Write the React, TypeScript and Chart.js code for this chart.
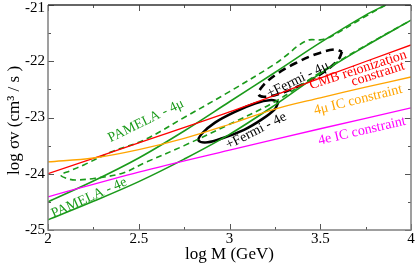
import React, { useEffect, useRef } from 'react';
import { Chart, registerables } from 'chart.js';
Chart.register(...registerables);

// ---- tick values / labels ----
const xTickValues = [2, 2.5, 3, 3.5, 4];
const xTickLabels = ['2', '2.5', '3', '3.5', '4'];
const yTickValues = [-25, -24, -23, -22, -21];
const yTickLabels = ['-25', '-24', '-23', '-22', '-21'];
const xTitle = 'log M (GeV)';
const yTitle = 'log \u03c3v (cm\u00b3 / s )';

// ---- constraint lines ----
const cmbX = [2, 2.5, 3, 3.5, 4];
const cmbY = [-24.0, -23.45, -22.9, -22.3, -21.71];

const ic4muX = [2, 2.25, 2.5, 2.75, 3, 3.25, 3.5, 3.75, 4];
const ic4muY = [-23.79, -23.72, -23.57, -23.37, -23.12, -22.85, -22.65, -22.46, -22.28];

const ic4eX = [2, 2.5, 3, 3.5, 4];
const ic4eY = [-24.41, -23.97, -23.58, -23.2, -22.83];

// ---- PAMELA 4e (solid band) ----
const pam4eLowX = [2, 2.25, 2.5, 2.75, 3, 3.25, 3.5, 3.75, 4];
const pam4eLowY = [-24.82, -24.49, -24.14, -23.74, -23.3, -22.78, -22.22, -21.73, -21.27];
const pam4eUpX = [2, 2.25, 2.5, 2.75, 3, 3.25, 3.5, 3.75, 3.86];
const pam4eUpY = [-24.5, -24.13, -23.72, -23.24, -22.72, -22.2, -21.67, -21.18, -21.0];

// ---- PAMELA 4mu (dashed contour) ----
const pam4muX = [3.86, 3.75, 3.56, 3.5, 3.44, 3.38, 3.32, 3.25, 3.0, 2.75, 2.53, 2.35, 2.2, 2.12, 2.07, 2.1, 2.15, 2.26, 2.41, 2.53, 2.75, 3.0, 3.25, 3.5, 3.75, 4.0];
const pam4muY = [-21.0, -21.2, -21.56, -21.62, -21.62, -21.72, -21.88, -22.05, -22.54, -23.0, -23.4, -23.61, -23.84, -23.95, -24.02, -24.08, -24.11, -24.08, -23.99, -23.81, -23.5, -23.12, -22.72, -22.2, -21.72, -21.27];

// ---- Fermi + PAMELA ellipses ----
const fermi4eX = [3.27, 3.25, 3.18, 3.08, 2.96, 2.88, 2.83, 2.85, 2.92, 3.03, 3.14, 3.23, 3.27];
const fermi4eY = [-22.72, -22.85, -23.03, -23.22, -23.37, -23.44, -23.41, -23.28, -23.09, -22.9, -22.75, -22.69, -22.72];
const fermi4muX = [3.62, 3.6, 3.53, 3.42, 3.3, 3.2, 3.16, 3.18, 3.25, 3.36, 3.48, 3.58, 3.62];
const fermi4muY = [-21.83, -21.97, -22.17, -22.38, -22.55, -22.63, -22.59, -22.45, -22.25, -22.04, -21.87, -21.79, -21.83];

const toPts = (xs: number[], ys: number[]) => xs.map((x, i) => ({ x, y: ys[i] }));

const SERIF = "'Liberation Serif', 'Times New Roman', serif";
const GREEN = '#1a9a1a';

// text annotations: [text, x, y, angle(deg), color]
const annotations: Array<[string, number, number, number, string]> = [
  ['PAMELA - 4\u03bc', 2.54, -23.06, 26, GREEN],
  ['PAMELA - 4e', 2.226, -24.43, 24, GREEN],
  ['+Fermi - 4e', 3.146, -23.24, 27, '#000'],
  ['+Fermi - 4\u03bc', 3.377, -22.33, 26, '#000'],
  ['CMB reionization', 3.708, -22.156, 18, '#ff0000'],
  ['constraint', 3.818, -22.227, 18, '#ff0000'],
  ['4\u03bc IC constraint', 3.708, -22.69, 14, '#ffa500'],
  ['4e IC constraint', 3.73, -23.24, 13, '#ff00ff'],
];

const framePlugin = {
  id: 'frameTicks',
  afterDatasetsDraw(chart: any) {
    const { ctx, chartArea: a, scales } = chart;
    const xs = scales.x, ys = scales.y;
    ctx.save();
    // annotations
    ctx.font = `14px ${SERIF}`;
    ctx.textAlign = 'center';
    ctx.textBaseline = 'middle';
    for (const [t, x, y, ang, col] of annotations) {
      ctx.save();
      ctx.translate(xs.getPixelForValue(x), ys.getPixelForValue(y));
      ctx.rotate((-ang * Math.PI) / 180);
      ctx.fillStyle = col;
      ctx.fillText(t, 0, 0);
      ctx.restore();
    }
    // ticks
    ctx.strokeStyle = '#555';
    ctx.lineWidth = 1;
    for (let v = 2; v <= 4.0001; v += 0.25) {
      const px = Math.round(xs.getPixelForValue(v)) + 0.5;
      const major = Math.abs(v * 2 - Math.round(v * 2)) < 1e-6;
      const L = major ? 6 : 3;
      ctx.beginPath();
      ctx.moveTo(px, a.bottom); ctx.lineTo(px, a.bottom - L);
      ctx.moveTo(px, a.top); ctx.lineTo(px, a.top + L);
      ctx.stroke();
    }
    for (let v = -25; v <= -20.999; v += 0.5) {
      const py = Math.round(ys.getPixelForValue(v)) + 0.5;
      const major = Math.abs(v - Math.round(v)) < 1e-6;
      const L = major ? 6 : 3;
      ctx.beginPath();
      ctx.moveTo(a.left, py); ctx.lineTo(a.left + L, py);
      ctx.moveTo(a.right, py); ctx.lineTo(a.right - L, py);
      ctx.stroke();
    }
    // frame
    ctx.lineWidth = 1.5;
    ctx.strokeStyle = '#808080';
    ctx.beginPath();
    ctx.moveTo(a.left, a.top); ctx.lineTo(a.left, a.bottom); ctx.lineTo(a.right, a.bottom); ctx.lineTo(a.right, a.top);
    ctx.stroke();
    ctx.strokeStyle = '#333';
    ctx.beginPath();
    ctx.moveTo(a.left, a.top); ctx.lineTo(a.right, a.top);
    ctx.stroke();

    // tick labels
    ctx.fillStyle = '#000';
    ctx.font = `15px ${SERIF}`;
    ctx.textAlign = 'center';
    ctx.textBaseline = 'alphabetic';
    xTickValues.forEach((v, i) => {
      ctx.fillText(xTickLabels[i], xs.getPixelForValue(v), a.bottom + 13);
    });
    ctx.textAlign = 'right';
    ctx.textBaseline = 'middle';
    yTickValues.forEach((v, i) => {
      const py = Math.max(ys.getPixelForValue(v), a.top + 3);
      ctx.fillText(yTickLabels[i], a.left - 3, py);
    });
    // axis titles
    ctx.font = `17px ${SERIF}`;
    ctx.textAlign = 'center';
    ctx.textBaseline = 'alphabetic';
    ctx.fillText(xTitle, (a.left + a.right) / 2, a.bottom + 29);
    ctx.save();
    ctx.translate(19, (a.top + a.bottom) / 2 + 3);
    ctx.rotate(-Math.PI / 2);
    ctx.fillText(yTitle, 0, 0);
    ctx.restore();
    ctx.restore();
  },
};

export default function App() {
  const ref = useRef<HTMLCanvasElement | null>(null);
  useEffect(() => {
    if (!ref.current) return;
    const line = (data: any, color: string, width: number, dash: number[] = [], tension = 0.35) => ({
      data,
      borderColor: color,
      borderWidth: width,
      borderDash: dash,
      showLine: true,
      pointRadius: 0,
      fill: false,
      tension,
    });
    const chart = new Chart(ref.current, {
      type: 'scatter',
      data: {
        datasets: [
          line(toPts(ic4eX, ic4eY), '#ff00ff', 1.3),
          line(toPts(ic4muX, ic4muY), '#ffa500', 1.3),
          line(toPts(cmbX, cmbY), '#ff0000', 1.3),
          line(toPts(pam4eLowX, pam4eLowY), GREEN, 1.6),
          line(toPts(pam4eUpX, pam4eUpY), GREEN, 1.6),
          line(toPts(pam4muX, pam4muY), GREEN, 1.6, [6, 4]),
          line(toPts(fermi4eX, fermi4eY), '#000', 2.6),
          line(toPts(fermi4muX, fermi4muY), '#000', 2.6, [8, 5]),
        ],
      },
      options: {
        animation: false,
        responsive: true,
        maintainAspectRatio: false,
        layout: { padding: { left: 0, top: 5, right: 4, bottom: 0 } },
        plugins: { legend: { display: false }, tooltip: { enabled: false } },
        scales: {
          x: {
            type: 'linear',
            min: 2,
            max: 4,
            grid: { display: false },
            border: { display: false },
            ticks: { display: false },
            title: { display: false },
            afterFit: (s: any) => { s.height = 34; },
          },
          y: {
            type: 'linear',
            min: -25,
            max: -21,
            grid: { display: false },
            border: { display: false },
            ticks: { display: false },
            title: { display: false },
            afterFit: (s: any) => { s.width = 48; },
          },
        },
      },
      plugins: [framePlugin],
    });
    return () => chart.destroy();
  }, []);
  return (
    <div style={{ position: 'fixed', left: 0, top: 0, width: 415, height: 264, background: '#fff' }}>
      <canvas ref={ref} />
    </div>
  );
}
